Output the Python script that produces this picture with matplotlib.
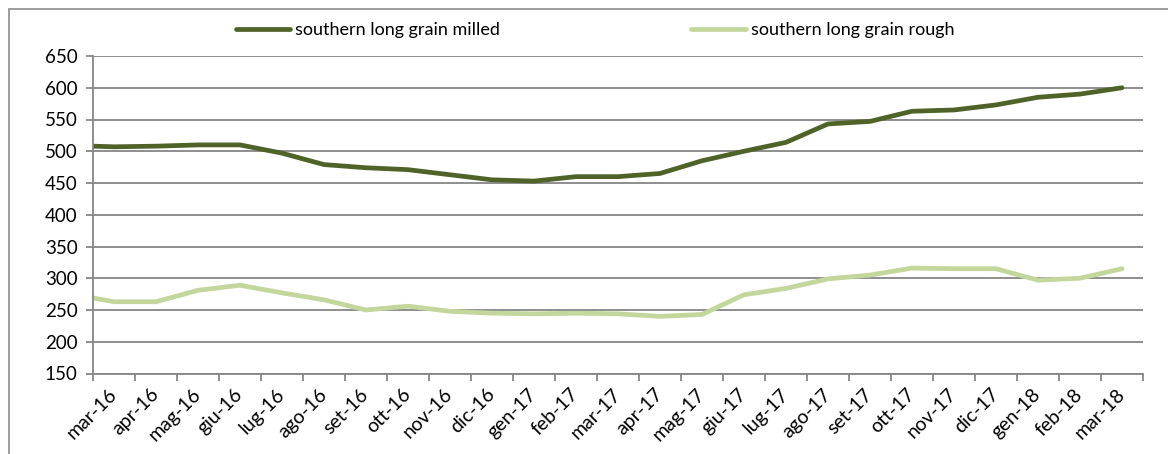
import matplotlib.pyplot as plt
from matplotlib.patches import Rectangle

plt.rcParams['font.family'] = ['Lato', 'DejaVu Sans']

# mesi (mar-16 ... mar-18)
mesi = ['mar-16', 'apr-16', 'mag-16', 'giu-16', 'lug-16', 'ago-16', 'set-16', 'ott-16',
        'nov-16', 'dic-16', 'gen-17', 'feb-17', 'mar-17', 'apr-17', 'mag-17', 'giu-17',
        'lug-17', 'ago-17', 'set-17', 'ott-17', 'nov-17', 'dic-17', 'gen-18', 'feb-18',
        'mar-18']

# valori
milled = [507, 508, 510, 510, 497, 479, 474, 471, 463, 455, 453, 460, 460, 465,
          485, 500, 514, 543, 547, 563, 565, 573, 585, 590, 600]
rough = [263, 263, 281, 289, 277, 266, 250, 256, 248, 245, 244, 245, 244, 240,
         243, 274, 284, 299, 305, 316, 315, 315, 297, 300, 315]

# il mese precedente (feb-16) esce dal grafico, si vede solo il tratto iniziale
milled_prec = 509
rough_prec = 275

x = list(range(-1, len(mesi)))
y_milled = [milled_prec] + milled
y_rough = [rough_prec] + rough

fig = plt.figure(figsize=(11.68, 4.54), dpi=100)
ax = fig.add_axes([93 / 1168, 1 - 373.5 / 454, 1050 / 1168, 317.5 / 454])

grigio = '#868686'
ax.set_ylim(150, 650)
ax.set_yticks(range(150, 651, 50))
ax.grid(axis='y', color=grigio, lw=1.3)
ax.set_axisbelow(True)

ax.plot(x, y_milled, color='#4F6228', lw=3.4, solid_capstyle='round',
        label='southern long grain milled')
ax.plot(x, y_rough, color='#C3D69B', lw=3.4, solid_capstyle='round',
        label='southern long grain rough')

ax.set_xlim(-0.5, len(mesi) - 0.5)
ax.set_xticks([i - 0.5 for i in range(len(mesi) + 1)])
ax.set_xticklabels([])
ax.set_xticks(range(len(mesi)), minor=True)
ax.set_xticklabels(mesi, minor=True, rotation=45, ha='right', va='center',
                   rotation_mode='anchor', fontsize=14)
ax.tick_params(axis='x', which='minor', length=0, pad=13)
ax.tick_params(axis='x', which='major', length=5, color=grigio, width=1.3)
ax.tick_params(axis='y', length=5, color=grigio, width=1.3, labelsize=13.5, pad=6)

for s in ['top', 'right']:
    ax.spines[s].set_visible(False)
for s in ['left', 'bottom']:
    ax.spines[s].set_color(grigio)
    ax.spines[s].set_linewidth(1.3)

fig.legend(loc='center', bbox_to_anchor=(595 / 1168, 1 - 30 / 454), ncol=2, frameon=False,
           fontsize=13, handlelength=3, columnspacing=10.6, handletextpad=0.3)

# cornice esterna
fig.patches.append(Rectangle((9 / 1168, -0.1), 1.2, 1.1 - 9 / 454, transform=fig.transFigure,
                             fill=False, edgecolor='#8c8c8c', lw=1.2))

fig.savefig('out.png', dpi=100)
